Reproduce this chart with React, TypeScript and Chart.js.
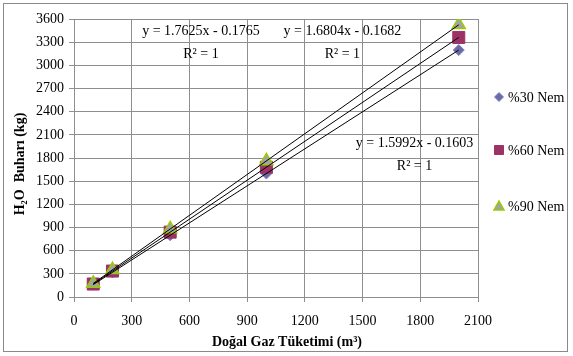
import React, { useEffect, useRef } from "react";
import { Chart, registerables } from "chart.js";

Chart.register(...registerables);

// Natural gas consumption (m³) and the resulting water vapour (kg) per humidity level
const gasUse = [100, 200, 500, 1000, 2000];
const vapour30 = [160, 320, 800, 1599, 3198];
const vapour60 = [168, 336, 840, 1680, 3361];
const vapour90 = [176, 352, 881, 1762, 3525];

const seriesNames = ["%30 Nem", "%60 Nem", "%90 Nem"];
const fitLabels = [
  ["y = 1.5992x - 0.1603", "R² = 1"],
  ["y = 1.6804x - 0.1682", "R² = 1"],
  ["y = 1.7625x - 0.1765", "R² = 1"],
];

const xTicks = { min: 0, max: 2100, step: 300 };
const yTicks = { min: 0, max: 3600, step: 300 };

const SERIF = "'Liberation Serif', 'Times New Roman', serif";
const GRID = "#8e8e8e";

const markerStyles = [
  { shape: "rectRot", fill: "#6a6aa8", stroke: "#7f7fbf", radius: 5.5 },
  { shape: "rect", fill: "#9b3366", stroke: "#9b3366", radius: 8.5 },
  { shape: "triangle", fill: "#a3a3a3", stroke: "#99cc00", radius: 7.5 },
];

// Least-squares line through the points, drawn across the data's x range
function fitLine(xs: number[], ys: number[]) {
  const n = xs.length;
  const mx = xs.reduce((a, b) => a + b, 0) / n;
  const my = ys.reduce((a, b) => a + b, 0) / n;
  let sxy = 0;
  let sxx = 0;
  for (let i = 0; i < n; i++) {
    sxy += (xs[i] - mx) * (ys[i] - my);
    sxx += (xs[i] - mx) * (xs[i] - mx);
  }
  const slope = sxy / sxx;
  const icpt = my - slope * mx;
  const x0 = Math.min(...xs);
  const x1 = Math.max(...xs);
  return [
    { x: x0, y: slope * x0 + icpt },
    { x: x1, y: slope * x1 + icpt },
  ];
}

const toPoints = (ys: number[]) => gasUse.map((x, i) => ({ x, y: ys[i] }));
const plain = (v: any) => String(v);

const overlay = {
  id: "overlay",
  afterDraw(chart: any) {
    const ctx = chart.ctx as CanvasRenderingContext2D;
    const xs = chart.scales.x;
    const ys = chart.scales.y;
    ctx.save();

    // outer frame
    ctx.strokeStyle = "#8a8a8a";
    ctx.lineWidth = 1;
    ctx.strokeRect(3.5, 3.5, 564, 348);

    // axis titles
    ctx.fillStyle = "#000";
    ctx.font = `bold 14px ${SERIF}`;
    ctx.textAlign = "center";
    ctx.textBaseline = "middle";
    ctx.fillText("Doğal Gaz Tüketimi (m³)", 287, 342);
    ctx.save();
    ctx.translate(20, 164);
    ctx.rotate(-Math.PI / 2);
    ctx.fillText("H₂O  Buharı (kg)", 0, 0);
    ctx.restore();

    // trendline equations, anchored in data space
    ctx.font = `14px ${SERIF}`;
    const spots = [
      [1770, 1990],
      [1395, 3440],
      [660, 3440],
    ];
    fitLabels.forEach((lab, i) => {
      const px = xs.getPixelForValue(spots[i][0]);
      const py = ys.getPixelForValue(spots[i][1]);
      ctx.fillText(lab[0], px, py);
      ctx.fillText(lab[1], px, py + 23);
    });

    // legend
    const lx = 499;
    const lys = [97, 150, 206];
    markerStyles.forEach((m, i) => {
      const cy = lys[i];
      ctx.beginPath();
      if (m.shape === "rectRot") {
        ctx.moveTo(lx, cy - 4.5);
        ctx.lineTo(lx + 4.5, cy);
        ctx.lineTo(lx, cy + 4.5);
        ctx.lineTo(lx - 4.5, cy);
      } else if (m.shape === "rect") {
        ctx.rect(lx - 4.5, cy - 4.5, 9, 9);
      } else {
        ctx.moveTo(lx, cy - 5);
        ctx.lineTo(lx + 5, cy + 4);
        ctx.lineTo(lx - 5, cy + 4);
      }
      ctx.closePath();
      ctx.fillStyle = m.fill;
      ctx.fill();
      ctx.strokeStyle = m.stroke;
      ctx.lineWidth = m.shape === "triangle" ? 1.5 : 1;
      ctx.stroke();
      ctx.fillStyle = "#000";
      ctx.textAlign = "left";
      ctx.fillText(seriesNames[i], 508, cy + 1);
    });

    ctx.restore();
  },
};

export default function App() {
  const ref = useRef<HTMLCanvasElement>(null);

  useEffect(() => {
    if (!ref.current) return;
    const series = [vapour30, vapour60, vapour90];

    const scatterSets = series.map((ys, i) => ({
      type: "scatter" as const,
      label: seriesNames[i],
      data: toPoints(ys),
      pointStyle: markerStyles[i].shape,
      pointRadius: markerStyles[i].radius,
      backgroundColor: markerStyles[i].fill,
      borderColor: markerStyles[i].stroke,
      pointBorderWidth: i === 2 ? 1.5 : 1,
      order: 4 - i,
    }));

    const lineSets = series.map((ys, i) => ({
      type: "line" as const,
      label: "fit " + seriesNames[i],
      data: fitLine(gasUse, ys),
      borderColor: "#000",
      borderWidth: 1,
      pointRadius: 0,
      fill: false,
      order: 0,
    }));

    const chart = new Chart(ref.current, {
      type: "scatter",
      data: { datasets: [...scatterSets, ...lineSets] as any },
      options: {
        responsive: false,
        animation: false,
        devicePixelRatio: 1,
        layout: { padding: { top: 19, right: 95, left: 0, bottom: 0 } },
        plugins: { legend: { display: false }, tooltip: { enabled: false } },
        scales: {
          x: {
            type: "linear",
            min: xTicks.min,
            max: xTicks.max,
            ticks: {
              stepSize: xTicks.step,
              color: "#000",
              font: { family: SERIF, size: 14 },
              padding: 11,
              maxRotation: 0,
              callback: plain,
            },
            grid: { color: GRID, tickLength: 5 },
            border: { color: GRID },
            afterFit: (s: any) => {
              s.height = 59;
            },
          },
          y: {
            type: "linear",
            min: yTicks.min,
            max: yTicks.max,
            ticks: {
              stepSize: yTicks.step,
              color: "#000",
              font: { family: SERIF, size: 14 },
              padding: 5,
              callback: plain,
            },
            grid: { color: GRID, tickLength: 5 },
            border: { color: GRID },
            afterFit: (s: any) => {
              s.width = 74;
            },
          },
        },
      },
      plugins: [overlay],
    });

    return () => chart.destroy();
  }, []);

  return (
    <div style={{ position: "fixed", left: 0, top: 0, width: 573, height: 356, background: "#fff" }}>
      <canvas ref={ref} width={573} height={356} />
    </div>
  );
}
